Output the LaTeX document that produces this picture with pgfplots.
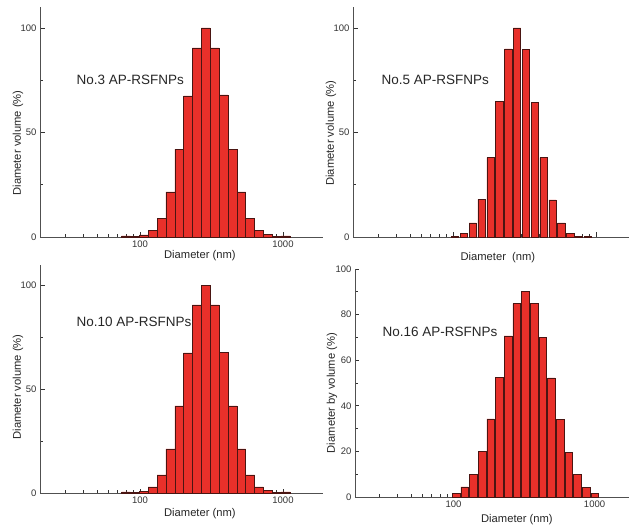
\documentclass[border=0pt]{standalone}
\usepackage{fontspec}
\setmainfont{Liberation Sans}
\usepackage{pgfplots}
\pgfplotsset{compat=1.18}
\definecolor{barred}{HTML}{E8302A}
\definecolor{baredge}{HTML}{4A1512}
\definecolor{axgray}{HTML}{505050}
\pgfplotsset{
  every axis/.append style={
    scale only axis,
    ymin=0,
    axis x line*=bottom, axis y line*=left,
    axis line style={axgray, line width=0.9pt},
    tick align=inside,
    major tick length=4.5pt, minor tick length=3pt,
    every tick/.style={black!80, line width=0.8pt},
    every minor tick/.style={black!80, line width=0.8pt},
    minor xtick={30,40,50,60,70,80,90,200,300,400,500,600,700,800,900},
    tick label style={font=\fontsize{9.5}{11}\selectfont, black!80},
    label style={font=\fontsize{11.2}{13}\selectfont, black!85},
    clip=false,
  },
  /pgf/number format/assume math mode=true,
}
\pgfplotstableread{
x y
79.9 0.5
92.1 0.3
106.2 1.0
122.5 3.2
141.3 8.8
163.1 21.6
188.1 42
216.9 67.5
250.2 90.5
288.6 100
333.0 90.5
384.0 68
443.0 42
510.9 21.6
589.3 8.8
679.8 3.2
784.2 1.1
904.6 0.2
1043.0 0.5
}\dataA
\pgfplotstableread{
x y
103.3 0.3
119.1 1.8
137.4 6.7
158.5 18
182.8 38
210.9 65
243.2 90
280.5 100
323.6 89.6
373.3 64.5
430.5 38
496.6 17.7
572.8 6.7
660.7 1.9
762.1 0.4
879.0 0.4
}\dataB
\pgfplotstableread{
x y
79.9 0.5
92.1 0.3
106.2 0.8
122.5 3.0
141.3 8.7
163.1 21.3
188.1 42
216.9 67.6
250.2 90.8
288.6 100
333.0 90.8
384.0 68
443.0 42
510.9 21.3
589.3 8.8
679.8 3.0
784.2 1.1
904.6 0.2
1043.0 0.5
}\dataC
\pgfplotstableread{
x y
104.0 1.5
119.8 4.4
138.0 10
159.1 20
183.2 34.3
211.2 52.5
243.2 70.7
280.2 84.8
322.8 90.2
372.0 85
428.5 70
493.8 52.3
568.9 34
655.4 19.6
755.1 9.8
870.0 4.1
1002.3 1.5
}\dataD
\begin{document}
\begin{tikzpicture}
\useasboundingbox (0,0) rectangle (629pt,525pt);
% Panel 1: No.3
\begin{axis}[at={(40pt,288pt)}, anchor=south west,
  xmode=log, width=283pt, height=230pt, xmin=20, xmax=1905, ymax=110,
  xtick={100,1000}, xticklabels={100,1000},
  ytick={0,50,100}, minor ytick={25,75},
  xlabel={Diameter (nm)}, ylabel={Diameter volume (\%)},
  xlabel style={at={(axis description cs:0.565,-0.083)}, anchor=center},
  ylabel style={at={(axis description cs:-0.078,0.409)}, anchor=center}]
\addplot[ybar, bar width=8.87pt, fill=barred, draw=baredge, line width=0.5pt] table[x=x,y=y]{\dataA};
\node[anchor=west, font=\fontsize{13.5}{15}\selectfont, black!85] at (rel axis cs:0.117,0.683) {No.3 AP-RSFNPs};
\end{axis}
% Panel 2: No.5
\begin{axis}[at={(353pt,288pt)}, anchor=south west,
  xmode=log, width=276pt, height=230pt, xmin=20, xmax=1702, ymax=110,
  xtick={100,1000}, xticklabels={},
  ytick={0,50,100}, minor ytick={25,75},
  xlabel={Diameter\ \ (nm)}, ylabel={Diameter volume (\%)},
  xlabel style={at={(axis description cs:0.525,-0.091)}, anchor=center},
  ylabel style={at={(axis description cs:-0.08,0.452)}, anchor=center}]
\addplot[ybar, bar width=7.3pt, fill=barred, draw=baredge, line width=0.5pt] table[x=x,y=y]{\dataB};
\node[anchor=west, font=\fontsize{13.5}{15}\selectfont, black!85] at (rel axis cs:0.091,0.683) {No.5 AP-RSFNPs};
\end{axis}
% Panel 3: No.10
\begin{axis}[at={(40pt,32pt)}, anchor=south west,
  xmode=log, width=283pt, height=228pt, xmin=20, xmax=1905, ymax=110,
  xtick={100,1000}, xticklabels={100,1000},
  ytick={0,50,100}, minor ytick={25,75},
  xlabel={Diameter (nm)}, ylabel={Diameter volume (\%)},
  xlabel style={at={(axis description cs:0.565,-0.092)}, anchor=center},
  ylabel style={at={(axis description cs:-0.078,0.465)}, anchor=center}]
\addplot[ybar, bar width=8.87pt, fill=barred, draw=baredge, line width=0.5pt] table[x=x,y=y]{\dataC};
\node[anchor=west, font=\fontsize{13.5}{15}\selectfont, black!85] at (rel axis cs:0.117,0.75) {No.10 AP-RSFNPs};
\end{axis}
% Panel 4: No.16
\begin{axis}[at={(355pt,28pt)}, anchor=south west,
  xmode=log, width=274pt, height=228pt, xmin=20, xmax=1755, ymax=100,
  xtick={100,1000}, xticklabels={100,1000},
  ytick={0,20,40,60,80,100}, minor ytick={10,30,50,70,90},
  xlabel={Diameter (nm)}, ylabel={Diameter by volume (\%)},
  xlabel style={at={(axis description cs:0.591,-0.10)}, anchor=center},
  ylabel style={at={(axis description cs:-0.084,0.456)}, anchor=center}]
\addplot[ybar, bar width=7.7pt, fill=barred, draw=baredge, line width=0.5pt] table[x=x,y=y]{\dataD};
\node[anchor=west, font=\fontsize{13.5}{15}\selectfont, black!85] at (rel axis cs:0.088,0.724) {No.16 AP-RSFNPs};
\end{axis}
\end{tikzpicture}
\end{document}
